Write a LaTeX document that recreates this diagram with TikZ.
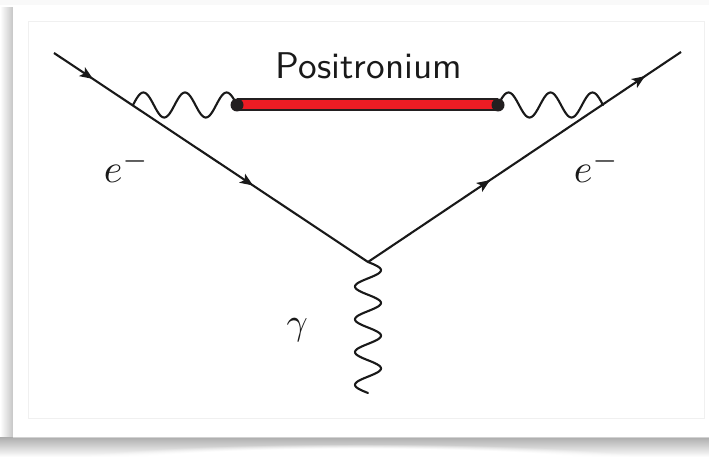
\documentclass[tikz,border=0pt]{standalone}
\usetikzlibrary{arrows.meta,decorations.markings,fadings}
\definecolor{barred}{RGB}{237,28,36}
\definecolor{bardark}{RGB}{35,31,32}
\tikzset{ftip/.tip={Stealth[length=13pt,width=10.5pt,inset=3pt]}}
\begin{document}
\begin{tikzpicture}[x=1pt,y=-1pt,
  fermion/.style={line width=2.1pt, black!90},
  photon/.style={line width=2.1pt, black!90, line cap=round, line join=round},
  lbl/.style={inner sep=0pt, text=black!90}]
\useasboundingbox (0,0) rectangle (709,457);
% ---- card and its shadow ----
\fill[white] (0,0) rectangle (709,457);
\fill[gray!5] (0,0) rectangle (709,5);
\shade[left color=white, right color=gray!45] (0,8) rectangle (13,440);
\shade[top color=gray!65, bottom color=white] (0,437) rectangle (709,457);
\fill[white, path fading=circle with fuzzy edge 20 percent] (360,466) ellipse (320 and 22);
\fill[white] (13,5) rectangle (709,437);
\draw[gray!35, line width=0.8pt] (13,437) -- (709,437);
\draw[gray!12, line width=1pt] (28,22) rectangle (704,418);
% ---- points ----
\coordinate (in)  at (54,53);
\coordinate (v)   at (368,262);
\coordinate (out) at (681,52);
\coordinate (pl)  at (133,105);
\coordinate (bl)  at (237,105);
\coordinate (br)  at (498,105);
\coordinate (pr)  at (603,105);
\coordinate (gend) at (368,393);
% ---- fermion lines ----
\draw[fermion, postaction={decorate}, decoration={markings,
   mark=at position 0.124 with {\arrow{ftip}},
   mark=at position 0.634 with {\arrow{ftip}}}] (in) -- (v);
\draw[fermion, postaction={decorate}, decoration={markings,
   mark=at position 0.39 with {\arrow{ftip}},
   mark=at position 0.885 with {\arrow{ftip}}}] (v) -- (out);
% ---- photons ----
\draw[photon, shift={(pl)}] plot[domain=0:104, samples=120, smooth] (\x, {-12.5*sin(\x*8.65385)});
\draw[photon, shift={(br)}] plot[domain=0:105, samples=120, smooth] (\x, {-12.5*sin(\x*8.57143)});
\draw[photon, shift={(v)}] plot[domain=0:131, samples=150, smooth] ({13*sin(\x*10.99237)}, \x);
% ---- positronium bar ----
\draw[line width=13pt, bardark] (bl) -- (br);
\draw[line width=9pt, barred] (bl) -- (br);
\fill[bardark] (bl) circle (6.5);
\fill[bardark] (br) circle (6.5);
% ---- labels ----
\node[lbl, anchor=base, scale=3.72] (pos) at (369,79) {\sffamily Positronium};
\node[lbl, anchor=base west, scale=4] (eL) at (103,183) {$e^-$};
\node[lbl, anchor=base west, scale=4] (eR) at (573,183) {$e^-$};
\node[lbl, anchor=base west, scale=3.7] (g) at (286,334) {$\gamma$};
\end{tikzpicture}
\end{document}
